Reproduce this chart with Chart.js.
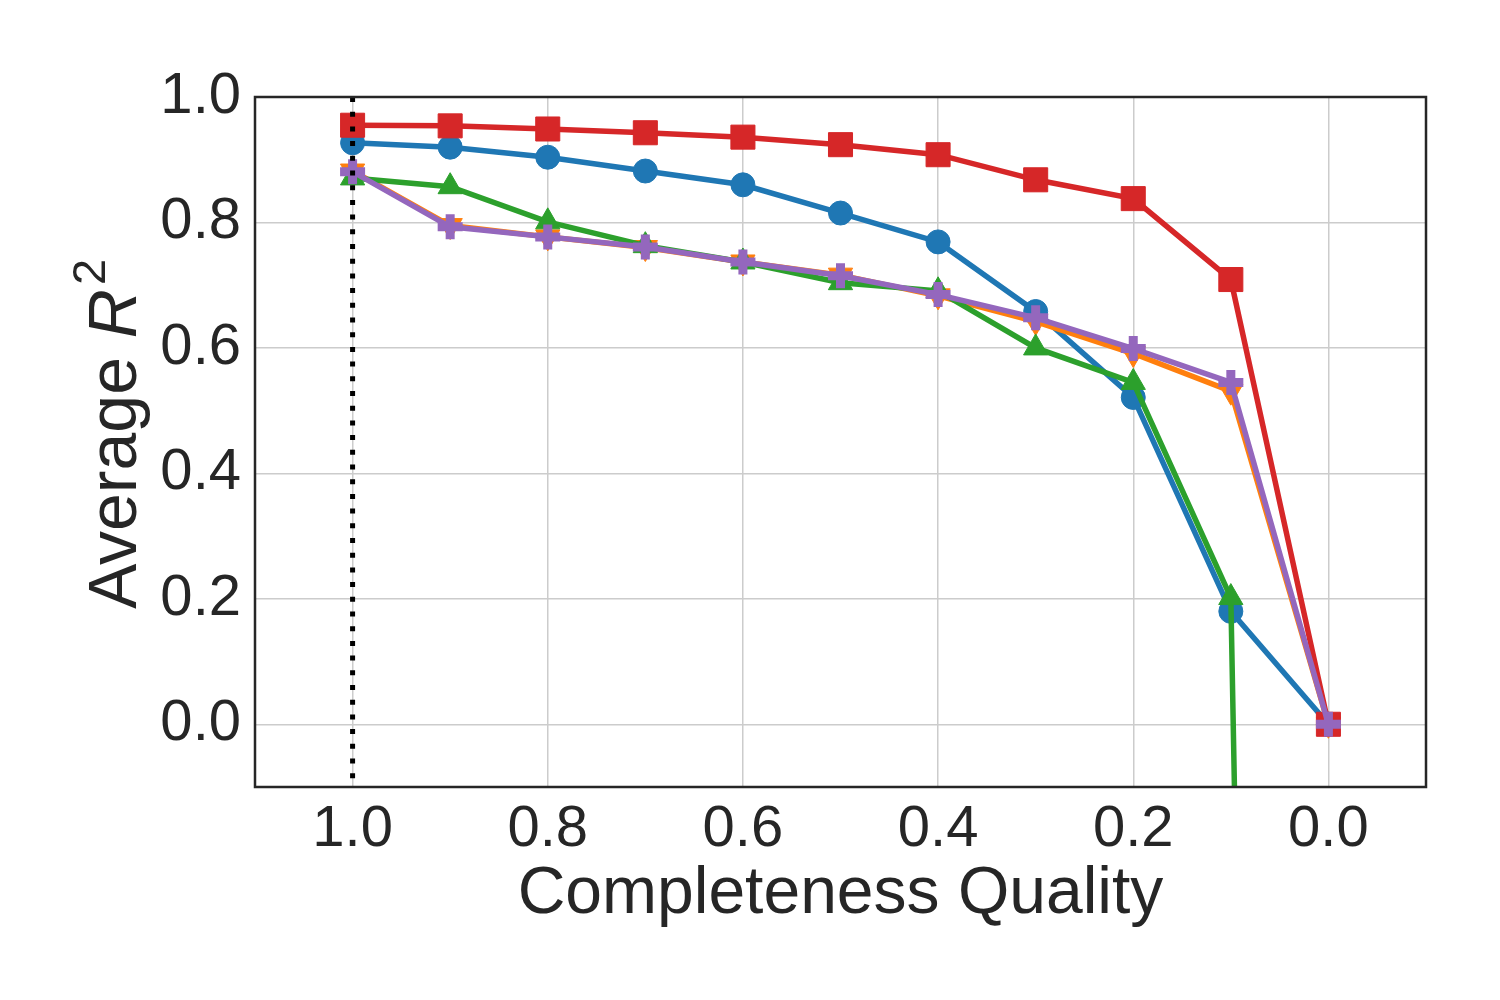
<!DOCTYPE html>
<html lang="en">
<head>
<meta charset="UTF-8">
<title>Average R2 vs Completeness Quality</title>
<style>
  body { margin: 0; background: #fff; }
  #wrap { width: 1500px; height: 1000px; }
</style>
</head>
<body>
<div id="wrap"><canvas id="chart" width="1500" height="1000"></canvas></div>
<script src="https://cdn.jsdelivr.net/npm/chart.js"></script>
<script>
// data
const quality = [1.0, 0.9, 0.8, 0.7, 0.6, 0.5, 0.4, 0.3, 0.2, 0.1, 0.0];
const blueR2   = [0.927, 0.920, 0.904, 0.882, 0.860, 0.815, 0.769, 0.658, 0.521, 0.180, 0.0];
const orangeR2 = [0.882, 0.795, 0.777, 0.760, 0.737, 0.716, 0.683, 0.642, 0.591, 0.531, 0.0];
const greenR2  = [0.871, 0.857, 0.801, 0.763, 0.737, 0.704, 0.691, 0.600, 0.545, 0.202, -8.0];
const redR2    = [0.955, 0.954, 0.949, 0.943, 0.936, 0.924, 0.908, 0.868, 0.838, 0.709, 0.0];
const purpleR2 = [0.881, 0.793, 0.777, 0.761, 0.737, 0.715, 0.685, 0.648, 0.599, 0.545, 0.0];
const xTicks = [1.0, 0.8, 0.6, 0.4, 0.2, 0.0];
const yTicks = [0.0, 0.2, 0.4, 0.6, 0.8, 1.0];
const refLineX = 1.0;

const FONT = '"Liberation Sans", Arial, sans-serif';
const TEXT = '#262626';

function pts(arr) {
  return quality.map((q, i) => ({ x: q, y: arr[i] }));
}

function series(label, arr, color, style, radius, order, extra) {
  return Object.assign({
    label: label,
    data: pts(arr),
    borderColor: color,
    backgroundColor: color,
    pointBackgroundColor: color,
    pointBorderColor: color,
    borderWidth: 5.5,
    pointStyle: style,
    pointRadius: radius,
    pointBorderWidth: 1,
    tension: 0,
    order: order
  }, extra || {});
}

// y axis title with italic R and superscript 2
const yTitlePlugin = {
  id: 'yTitle',
  afterDraw(chart) {
    const ctx = chart.ctx;
    const parts = [
      { t: 'Average ', f: '68px ' + FONT, dy: 0 },
      { t: 'R', f: 'italic 68px ' + FONT, dy: 0 },
      { t: '2', f: '47px ' + FONT, dy: -31 }
    ];
    let total = 0;
    parts.forEach(p => { ctx.font = p.f; p.w = ctx.measureText(p.t).width; total += p.w; });
    ctx.save();
    ctx.translate(136, 436);
    ctx.rotate(-Math.PI / 2);
    ctx.fillStyle = TEXT;
    ctx.textBaseline = 'alphabetic';
    let x = -total / 2;
    parts.forEach(p => { ctx.font = p.f; ctx.fillText(p.t, x, p.dy); x += p.w + (p.t === 'R' ? 4 : 0); });
    ctx.restore();
  }
};

// dotted vertical reference line and the axes frame
const framePlugin = {
  id: 'frame',
  afterDatasetsDraw(chart) {
    const ctx = chart.ctx;
    const a = chart.chartArea;
    const px = chart.scales.x.getPixelForValue(refLineX);
    ctx.save();
    ctx.strokeStyle = '#000';
    ctx.lineWidth = 5;
    ctx.setLineDash([5, 9.7]);
    ctx.beginPath();
    ctx.moveTo(px, a.top);
    ctx.lineTo(px, a.bottom);
    ctx.stroke();
    ctx.setLineDash([]);
    ctx.strokeStyle = '#262626';
    ctx.lineWidth = 2.5;
    ctx.strokeRect(a.left, a.top, a.right - a.left, a.bottom - a.top);
    ctx.restore();
  }
};

new Chart(document.getElementById('chart'), {
  type: 'line',
  data: {
    datasets: [
      series('blue', blueR2, '#1f77b4', 'circle', 12, 5),
      series('orange', orangeR2, '#ff7f0e', 'triangle', 14, 4, { pointRotation: 180 }),
      series('green', greenR2, '#2ca02c', 'triangle', 14, 3),
      series('red', redR2, '#d62728', 'rect', 17, 2),
      series('purple', purpleR2, '#9467bd', 'cross', 12.5, 1, { pointBorderWidth: 9 })
    ]
  },
  options: {
    responsive: false,
    animation: false,
    events: [],
    layout: { padding: { left: 0, right: 74, top: 97, bottom: 0 } },
    plugins: { legend: { display: false }, tooltip: { enabled: false } },
    scales: {
      x: {
        type: 'linear',
        reverse: true,
        min: -0.1,
        max: 1.1,
        afterBuildTicks: s => { s.ticks = xTicks.map(v => ({ value: v })); },
        afterFit: s => { s.height = 213; },
        grid: { color: '#cccccc', lineWidth: 1.5, drawTicks: false },
        border: { display: false },
        ticks: {
          color: TEXT,
          padding: 8,
          font: { family: FONT, size: 58 },
          callback: v => v.toFixed(1)
        },
        title: {
          display: true,
          text: 'Completeness Quality',
          color: TEXT,
          font: { family: FONT, size: 66 },
          padding: { top: 0, bottom: 66 }
        }
      },
      y: {
        type: 'linear',
        min: -0.1,
        max: 1.0,
        afterBuildTicks: s => { s.ticks = yTicks.map(v => ({ value: v })); },
        afterFit: s => { s.width = 255; },
        grid: { color: '#cccccc', lineWidth: 1.5, drawTicks: false },
        border: { display: false },
        ticks: {
          color: TEXT,
          padding: 14,
          font: { family: FONT, size: 58 },
          callback: v => v.toFixed(1)
        }
      }
    }
  },
  plugins: [yTitlePlugin, framePlugin]
});
</script>
</body>
</html>
